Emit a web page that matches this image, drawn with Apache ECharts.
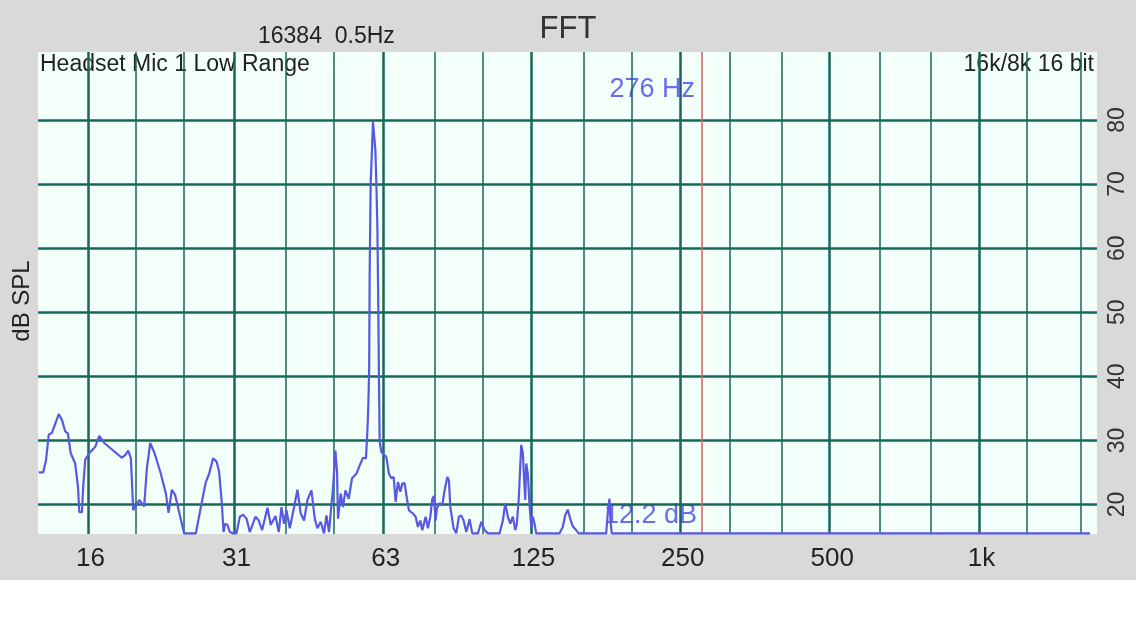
<!DOCTYPE html>
<html><head><meta charset="utf-8">
<script src="https://cdn.jsdelivr.net/npm/echarts@6/dist/echarts.min.js"></script>
<style>
html,body{margin:0;padding:0;background:#fff}
#c{width:1136px;height:640px;background:linear-gradient(#d9d9d9 0,#d9d9d9 580px,#ffffff 580px)}
</style>
</head><body><div id="c"></div>
<script>
// Spectrum (frequency in Hz, level in dB SPL)
const freqHz = [
  12.73,13.00,13.17,13.34,13.54,13.75,13.97,14.18,14.40,14.58,
  14.77,15.08,15.28,15.37,15.56,15.65,15.80,16.10,16.55,16.86,
  17.26,17.94,18.73,19.02,19.29,19.53,19.74,19.87,20.30,20.77,
  21.03,21.36,21.80,22.44,22.97,23.26,23.62,23.98,24.43,25.00,
  26.40,27.02,27.65,28.08,28.60,29.06,29.41,29.78,30.02,30.24,
  30.58,30.91,31.38,31.88,32.37,32.87,33.40,33.91,34.82,35.35,
  35.90,36.81,37.38,38.20,38.79,39.28,39.75,40.20,40.82,41.45,
  42.30,42.95,43.62,44.31,45.14,45.84,46.41,47.13,47.85,48.39,
  48.98,49.52,49.89,50.45,50.83,51.06,51.71,52.26,52.85,53.66,
  54.49,55.61,56.47,57.34,58.14,58.52,58.68,58.88,59.01,59.15,
  59.42,59.78,60.06,60.45,60.73,61.01,61.30,61.58,61.75,61.95,
  62.45,62.91,63.91,64.68,65.41,66.11,66.72,67.44,68.19,68.83,
  69.57,70.31,70.97,72.30,73.21,73.99,74.82,75.52,76.68,77.50,
  78.37,79.10,79.69,80.32,80.81,81.82,82.85,83.74,84.80,85.43,
  85.99,87.31,88.41,89.48,90.48,91.46,92.61,94.04,95.22,97.73,
  99.28,100.81,102.36,108.07,109.74,110.96,112.31,113.57,114.94,116.23,
  117.09,118.19,119.51,120.40,120.96,121.75,122.31,123.22,124.20,125.18,
  126.11,127.11,128.12,142.72,144.92,146.54,148.32,149.98,151.80,154.21,
  156.08,177.24,178.56,179.97,180.81,181.90,335.0,338.1,341.2,1674
];
const levelDb = [
  25.0,25.0,26.9,30.9,31.2,32.6,34.1,33.2,31.4,31.1,
  28.0,26.4,22.7,18.8,18.8,22.7,27.0,28.0,29.0,30.7,
  29.6,28.5,27.3,27.7,28.4,27.2,19.1,18.8,20.7,19.7,
  25.6,29.6,28.0,24.8,21.7,18.7,22.3,21.5,18.8,15.5,
  15.5,19.6,23.5,24.8,27.2,26.7,25.1,20.2,15.7,17.0,
  16.8,15.7,15.5,15.5,18.1,18.4,17.8,15.7,18.1,17.5,
  16.0,19.5,16.8,18.2,15.7,19.6,17.0,19.1,16.3,18.8,
  22.3,18.6,17.5,20.7,22.2,17.8,16.3,17.3,15.5,18.3,
  15.7,19.9,22.5,28.4,25.1,17.8,21.7,19.6,22.2,20.9,
  24.1,24.8,26.1,27.3,27.2,31.5,33.7,37.8,41.5,56.6,
  70.1,75.3,79.7,79.7,75.3,70.1,63.3,49.8,39.9,29.8,
  28.2,28.2,27.4,24.8,24.1,24.3,20.4,23.5,22.0,23.3,
  23.3,20.9,19.1,18.6,18.1,16.5,17.5,16.0,18.1,16.3,
  18.1,20.9,21.3,17.5,19.4,20.2,19.9,22.2,24.3,23.8,
  19.6,16.3,15.5,18.1,18.3,17.5,15.7,17.7,15.5,15.5,
  17.3,16.0,15.5,15.5,17.5,20.2,18.1,17.0,18.1,16.0,
  17.0,21.2,29.3,28.0,24.8,20.7,26.4,24.8,19.9,16.5,
  18.1,17.0,15.5,15.5,16.5,18.3,19.2,17.8,16.6,16.0,
  15.5,15.5,18.6,20.9,17.5,15.5,15.5,15.8,15.5,15.5
];
// Axes
const freqMin = 12.69, freqMax = 1729;
const dbMin = 15.4, dbMax = 90.6;
const thirdOctaveHz = [20,25,40,50,80,100,160,200,315,400,630,800,1250,1600];
const octaveHz = [16,31.5,63,125,250,500,1000];
const octaveLabels = ['16','31','63','125','250','500','1k'];
const dbTicks = [20,30,40,50,60,70,80];
// Texts
const titleText = 'FFT';
const fftInfo = '16384  0.5Hz';
const deviceText = 'Headset Mic 1 Low Range';
const formatText = '16k/8k 16 bit';
const yName = 'dB SPL';
const cursorHz = 276;
const cursorHzText = '276 Hz';
const cursorDbText = '12.2 dB';

const FONT = '"Liberation Sans", Arial, sans-serif';
const gridColor = '#16695a';
const lineColor = '#5858e4';
const labelMap = {};
octaveHz.forEach((v, i) => { labelMap[v] = octaveLabels[i]; });

const chart = echarts.init(document.getElementById('c'));
chart.setOption({
  backgroundColor: 'transparent',
  animation: false,
  title: {
    text: titleText, left: 'center', top: 9,
    textStyle: { fontSize: 31, fontWeight: 'normal', color: '#333', fontFamily: FONT }
  },
  grid: {
    left: 38, right: 39, top: 52, bottom: 106,
    show: true, backgroundColor: '#f3fff9', borderWidth: 0
  },
  xAxis: [
    {
      type: 'log', logBase: 2, min: freqMin, max: freqMax, position: 'bottom',
      axisLine: { show: false },
      axisTick: { show: false, customValues: thirdOctaveHz },
      axisLabel: { show: false },
      splitLine: { show: true, lineStyle: { color: gridColor, width: 1.5 } }
    },
    {
      type: 'log', logBase: 2, min: freqMin, max: freqMax, position: 'bottom',
      axisLine: { show: false },
      axisTick: { show: false, customValues: octaveHz },
      axisLabel: {
        show: true, customValues: octaveHz, margin: 12,
        fontSize: 26, color: '#222', fontFamily: FONT, padding: [0, 0, 0, 5],
        formatter: v => labelMap[v] !== undefined ? labelMap[v] : String(v)
      },
      splitLine: { show: true, lineStyle: { color: gridColor, width: 2.5 } }
    }
  ],
  yAxis: {
    type: 'value', min: dbMin, max: dbMax, position: 'right',
    axisLine: { show: false },
    axisTick: { show: false, customValues: dbTicks },
    axisLabel: {
      customValues: dbTicks, rotate: 90, margin: 9,
      fontSize: 23, color: '#333', fontFamily: FONT
    },
    splitLine: { show: true, lineStyle: { color: gridColor, width: 2.5 } }
  },
  graphic: [
    { type: 'text', left: 258, top: 25, style: { text: fftInfo, font: '23px ' + FONT, fill: '#222' } },
    { type: 'text', left: 40, top: 53, style: { text: deviceText, font: '23px ' + FONT, fill: '#222' } },
    { type: 'text', right: 42, top: 53, style: { text: formatText, font: '23px ' + FONT, fill: '#222' } },
    { type: 'text', right: 441, top: 76, style: { text: cursorHzText, font: '27px ' + FONT, fill: '#6b6bef' } },
    { type: 'text', right: 439, top: 502, style: { text: cursorDbText, font: '27px ' + FONT, fill: '#6b6bef' } },
    { type: 'text', x: 22, y: 301, rotation: Math.PI / 2,
      style: { text: yName, font: '24px ' + FONT, fill: '#222', align: 'center', verticalAlign: 'middle' } }
  ],
  series: [{
    type: 'line',
    xAxisIndex: 0,
    data: freqHz.map((f, i) => [f, levelDb[i]]),
    showSymbol: false,
    lineStyle: { color: lineColor, width: 2.2 },
    itemStyle: { color: lineColor },
    z: 5,
    markLine: {
      silent: true, symbol: ['none', 'none'],
      label: { show: false },
      lineStyle: { color: '#d36b6b', width: 1.6, type: 'solid' },
      data: [{ xAxis: cursorHz }]
    }
  }]
});
</script>
</body></html>
